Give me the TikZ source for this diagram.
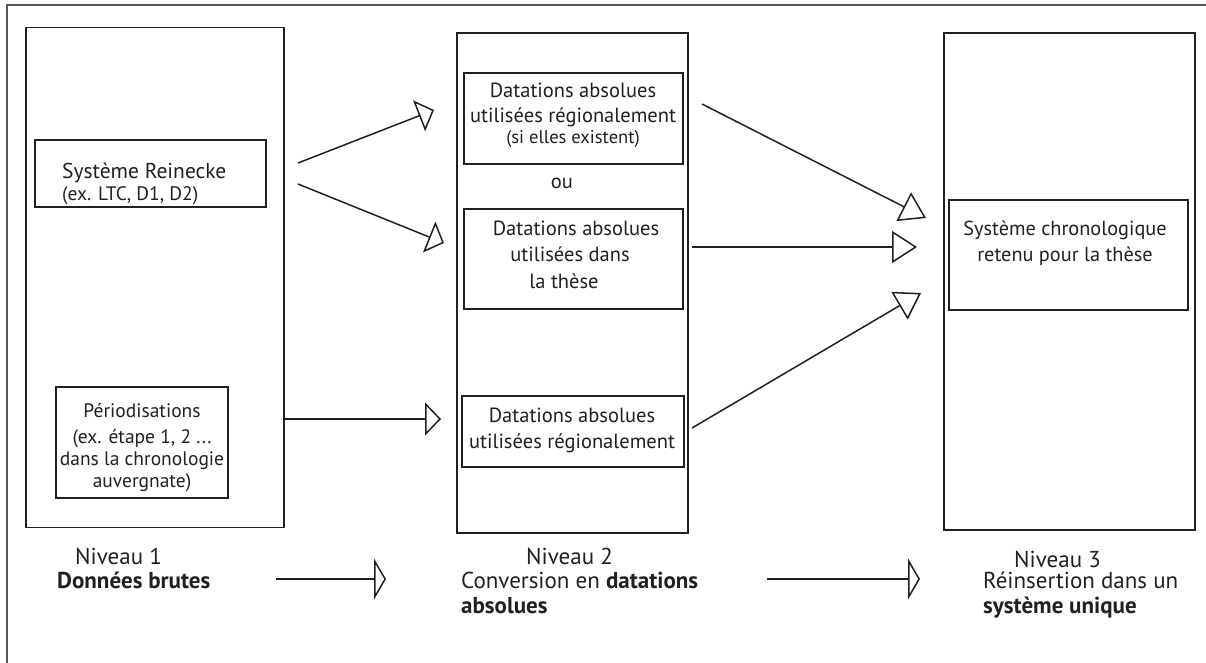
\documentclass[tikz,border=0pt]{standalone}
\usepackage{fontspec}
\setmainfont{PT Sans}
\usetikzlibrary{arrows.meta}
\definecolor{ink}{HTML}{231F20}
\definecolor{framec}{HTML}{555555}
\begin{document}
\begin{tikzpicture}[x=1pt,y=-1pt,
  box/.style={draw=ink, line width=1.6pt, inner sep=0pt, rectangle},
  txt/.style={font=\fontsize{20.5}{25.5}\selectfont, align=center, inner sep=0pt, text=ink, anchor=base},
  txtl/.style={font=\fontsize{21.5}{22}\selectfont, align=left, inner sep=0pt, text=ink, anchor=base west},
  lvl/.style={font=\fontsize{23}{24.5}\selectfont, align=left, inner sep=0pt, text=ink, anchor=base west},
  conn/.style={draw=ink, line width=1.5pt},
  tipA/.style={-{Triangle[open, length=16pt, width=33pt]}},
  tipB/.style={-{Triangle[open, length=25pt, width=32pt]}},
  tipC/.style={-{Triangle[open, length=12pt, width=41pt]}}
]
\useasboundingbox (0,0) rectangle (1206,662);
\clip (0,0) rectangle (1206,662);
% outer frame
\draw[framec, line width=1.4pt] (7,680) -- (7,5) -- (1230,5);

% columns
\node[box, minimum width=258pt, minimum height=500pt] (col1) at (155,277.5) {};
\node[box, minimum width=231pt, minimum height=500pt] (col2) at (572.5,283) {};
\node[box, minimum width=251pt, minimum height=497pt] (col3) at (1069.5,281.5) {};

% inner boxes
\node[box, minimum width=231pt, minimum height=67pt] (rein) at (150.5,173.5) {};
\node[box, minimum width=172pt, minimum height=111pt] (peri) at (142,442.5) {};
\node[box, minimum width=219pt, minimum height=91pt] (boxA) at (573.5,118.5) {};
\node[box, minimum width=219pt, minimum height=100pt] (boxB) at (573.5,259) {};
\node[box, minimum width=222pt, minimum height=71pt] (boxC) at (573,431.5) {};
\node[box, minimum width=239pt, minimum height=110pt] (chrono) at (1068.5,255) {};

% texts (anchor base = baseline of the last line)
\node[txtl] (reinT) at (62,200) {Système Reinecke\\{\fontsize{19.5}{22}\selectfont (ex. LTC, D1, D2)}};
\node[txt, font=\fontsize{19.5}{22}\selectfont] (periT) at (142,487) {Périodisations\\[3.5pt](ex. étape 1, 2 ...\\dans la chronologie\\auvergnate)};
\node[txt] (boxAT) at (573,143) {Datations absolues\\utilisées régionalement\\[-5pt]{\fontsize{18.5}{20}\selectfont (si elles existent)}};
\node[txt] (ou) at (562,188) {ou};
\node[txt, font=\fontsize{20.5}{26.5}\selectfont] (boxBT) at (570,288) {\hspace*{12pt}Datations absolues\\utilisées dans\\la thèse\hspace*{12pt}};
\node[txt, font=\fontsize{20.5}{26}\selectfont] (boxCT) at (572,448) {Datations absolues\\utilisées régionalement};
\node[txt, font=\fontsize{20.3}{26}\selectfont] (chronoT) at (1065,261) {Système chronologique\\retenu pour la thèse};

% level labels
\node[lvl] (n1a) at (75,564) {Niveau 1};
\node[lvl] (n1b) at (57,588) {\textbf{Données brutes}};
\node[lvl] (n2a) at (526,564) {Niveau 2};
\node[lvl] (n2b) at (461,613) {Conversion en \textbf{datations}\\\textbf{absolues}};
\node[lvl] (n3a) at (1014,567) {Niveau 3};
\node[lvl] (n3b) at (983,613) {Réinsertion dans un\\\textbf{système unique}};

% connector end points
\coordinate (a1s) at (298,163);  \coordinate (a1e) at (434,110);
\coordinate (a2s) at (298,184);  \coordinate (a2e) at (444,243);
\coordinate (a3s) at (285,419);  \coordinate (a3e) at (441,419);
\coordinate (b1s) at (702,104);  \coordinate (b1e) at (926,218);
\coordinate (b2s) at (692,247);  \coordinate (b2e) at (917,247);
\coordinate (b3s) at (692,428);  \coordinate (b3e) at (921,293);
\coordinate (c1s) at (276,579);  \coordinate (c1e) at (386,579);
\coordinate (c2s) at (767,579);  \coordinate (c2e) at (920,579);

\draw[conn, tipA] (a1s) -- (a1e);
\draw[conn, tipA] (a2s) -- (a2e);
\draw[conn, tipA] (a3s) -- (a3e);
\draw[conn, tipB] (b1s) -- (b1e);
\draw[conn, tipB] (b2s) -- (b2e);
\draw[conn, tipB] (b3s) -- (b3e);
\draw[conn, tipC] (c1s) -- (c1e);
\draw[conn, tipC] (c2s) -- (c2e);
\end{tikzpicture}
\end{document}
